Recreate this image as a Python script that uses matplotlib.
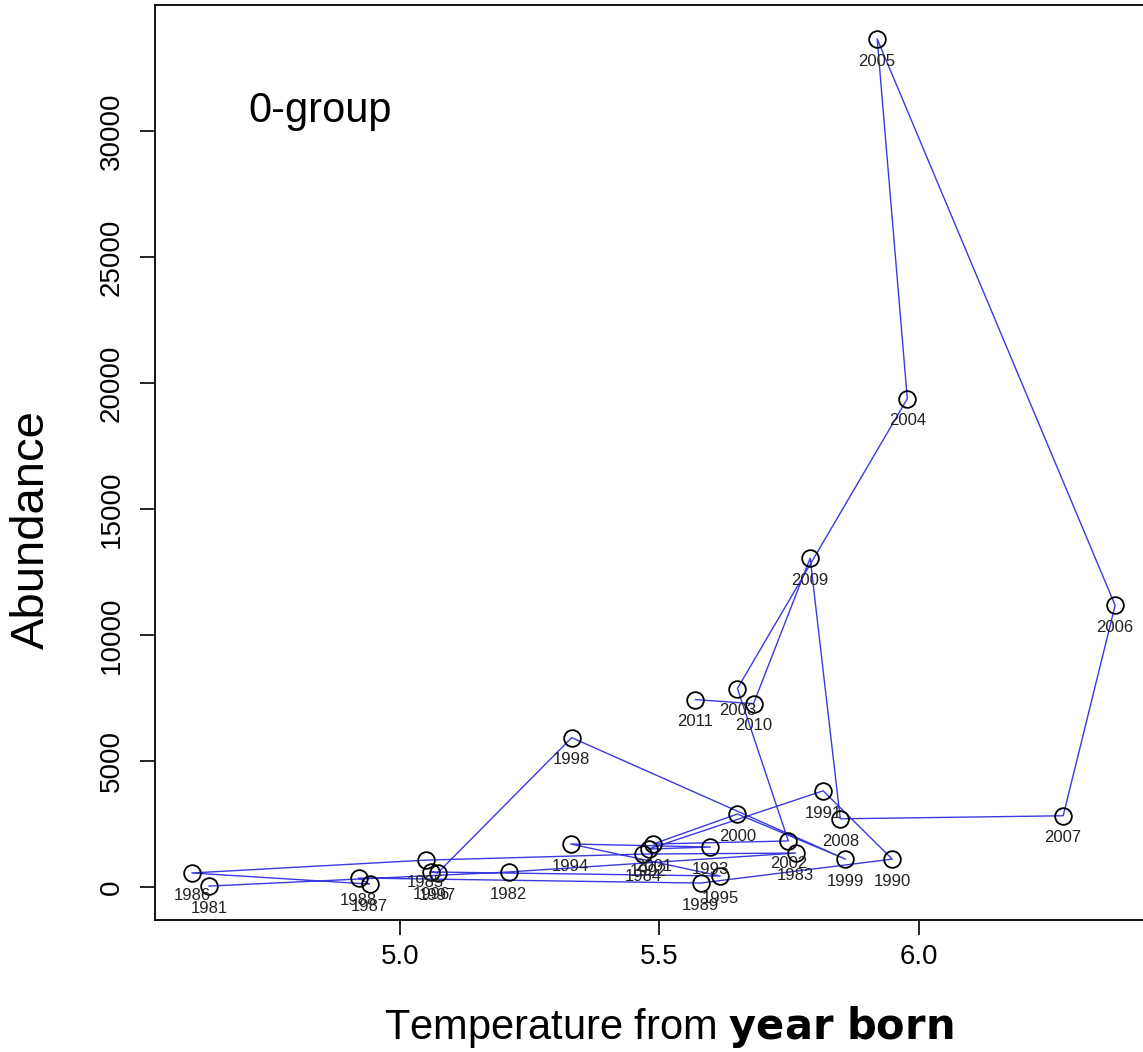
import matplotlib
matplotlib.use('Agg')
import matplotlib.pyplot as plt

plt.rcParams['font.family'] = ['Liberation Sans', 'DejaVu Sans']
plt.rcParams['mathtext.fontset'] = 'custom'
plt.rcParams['mathtext.rm'] = 'Liberation Sans'
plt.rcParams['mathtext.bf'] = 'DejaVu Sans:bold'

# 0-group abundance against temperature in year born, 1981-2011
years = list(range(1981, 2012))
temperature = [4.633, 5.210, 5.762, 5.469, 5.050, 4.600, 4.942, 4.921,
               5.579, 5.948, 5.815, 5.479, 5.598, 5.329, 5.617, 5.060,
               5.073, 5.331, 5.858, 5.650, 5.488, 5.748, 5.650, 5.977,
               5.919, 6.377, 6.277, 5.848, 5.790, 5.681, 5.569]
abundance = [40, 600, 1350, 1310, 1070, 560, 120, 360,
             160, 1110, 3820, 1510, 1590, 1710, 440, 600,
             560, 5930, 1110, 2900, 1710, 1830, 7880, 19380,
             33660, 11180, 2830, 2710, 13050, 7280, 7440]

xticks = [5.0, 5.5, 6.0]
yticks = [0, 5000, 10000, 15000, 20000, 25000, 30000]


def main():

	fig = plt.figure(figsize=(11.43, 10.52), dpi=100)
	# plot box runs past the right edge, as in the cropped original
	ax = fig.add_axes([0.1356, 0.1255, 0.8723, 0.8698])

	ax.plot(temperature, abundance, '-', color='#3a3ae0', lw=1.0, zorder=2)
	ax.plot(temperature, abundance, 'o', ms=12, mfc='none', mec='black',
			mew=1.3, zorder=3)

	for yr, t, a in zip(years, temperature, abundance):
		ax.annotate(str(yr), (t, a), xytext=(0, -16), textcoords='offset points',
					ha='center', va='center', fontsize=12, color='#222222')

	ax.set_xlim(4.529, 6.448)
	ax.set_ylim(-1305, 35007)
	ax.set_xticks(xticks)
	ax.set_xticklabels(['{:.1f}'.format(v) for v in xticks])
	ax.set_yticks(yticks)
	ax.set_yticklabels([str(v) for v in yticks], rotation=90, va='center')
	ax.tick_params(length=11, width=1.2, labelsize=20)
	ax.tick_params(axis='x', pad=6)
	ax.tick_params(axis='y', pad=11)
	for s in ax.spines.values():
		s.set_linewidth(1.3)
	ax.spines['right'].set_visible(False)

	ax.text(4.708, 30800, '0-group', fontsize=30, ha='left', va='center')

	fig.text(32 / 1143, 1 - 530 / 1052, 'Abundance', rotation=90,
			 fontsize=34, ha='center', va='center')
	fig.text(669 / 1143, 1 - 1027 / 1052, r'Temperature from $\mathbf{year\ born}$',
			 fontsize=30, ha='center', va='center')

	fig.savefig('out.png', dpi=100)


if __name__ == '__main__':
	main()
